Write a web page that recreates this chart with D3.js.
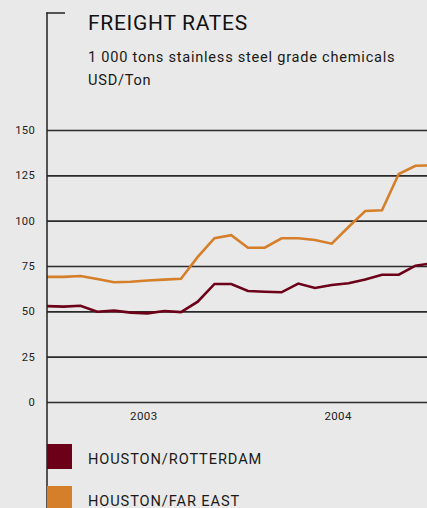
<!DOCTYPE html>
<html>
<head>
<meta charset="utf-8">
<script src="https://cdn.jsdelivr.net/npm/d3@7"></script>
<style>
  html, body { margin: 0; padding: 0; background: #e9e9e9; }
  svg { display: block; font-family: Roboto, "Open Sans", sans-serif; }
</style>
</head>
<body>
<svg id="chart" width="427" height="508"></svg>
<script>
// Freight rates, USD/Ton, one point per period
const rotterdam = [52.9, 52.6, 53.1, 49.8, 50.4, 49.3, 48.9, 50.2, 49.6, 55.3, 65.1, 65.1,
                   61.2, 60.8, 60.5, 65.3, 62.9, 64.5, 65.5, 67.6, 70.2, 70.2, 75.2, 76.5];
const farEast   = [69.0, 69.0, 69.5, 67.8, 66.0, 66.3, 67.0, 67.5, 68.0, 80.0, 90.3, 92.0,
                   85.1, 85.1, 90.3, 90.3, 89.3, 87.3, 96.5, 105.3, 105.7, 125.7, 130.3, 130.5];
const yTicks = [0, 25, 50, 75, 100, 125, 150];
const yearLabels = ["2003", "2004"];
const yearPositions = [5.75, 17.35];   // centre of each year on the period index
const seriesNames = ["HOUSTON/ROTTERDAM", "HOUSTON/FAR EAST"];
const seriesColors = ["#6c0019", "#d57f2b"];

const svg = d3.select("#chart");
const W = 427;
const x0 = 47;

const x = d3.scaleLinear().domain([0, 23]).range([x0, x0 + 23 * 16.75]);
const y = d3.scaleLinear().domain([0, 150]).range([402, 130]);

// Title block
svg.append("text").attr("x", 88).attr("y", 30)
  .attr("font-size", 21).attr("letter-spacing", 0.7).attr("fill", "#111").text("FREIGHT RATES");
svg.append("text").attr("x", 88).attr("y", 62)
  .attr("font-size", 14.6).attr("letter-spacing", 0.75).attr("fill", "#1a1a1a")
  .text("1 000 tons stainless steel grade chemicals");
svg.append("text").attr("x", 88).attr("y", 85)
  .attr("font-size", 14.6).attr("letter-spacing", 0.75).attr("fill", "#1a1a1a").text("USD/Ton");

// Horizontal gridlines with value labels
const yAxis = d3.axisLeft(y).tickValues(yTicks).tickSize(0).tickPadding(0);
const gy = svg.append("g").attr("transform", `translate(${x0},0)`).call(yAxis);
gy.select(".domain").remove();
gy.selectAll(".tick text").attr("x", -12).attr("font-size", 11.2).attr("letter-spacing", 0.3)
  .attr("fill", "#222").attr("font-family", "Roboto, sans-serif");
gy.selectAll(".tick").append("line")
  .attr("x1", 0).attr("x2", W - x0)
  .attr("stroke", "#2a2a2a").attr("stroke-width", 1.6);

// Year labels along the base
const xAxis = d3.axisBottom(x).tickValues(yearPositions)
  .tickFormat((d, i) => yearLabels[i]).tickSize(0).tickPadding(0);
const gx = svg.append("g").attr("transform", "translate(0,420)").call(xAxis);
gx.select(".domain").remove();
gx.selectAll(".tick text").attr("y", 0).attr("dy", 0).attr("font-size", 11.5).attr("letter-spacing", 0.4)
  .attr("fill", "#222").attr("font-family", "Roboto, sans-serif");

// Lines, clipped at the right edge of the plot
svg.append("clipPath").attr("id", "plot-clip")
  .append("rect").attr("x", x0).attr("y", 0).attr("width", W - x0).attr("height", 508);

const line = d3.line().x((d, i) => x(i)).y(d => y(d));
const lines = svg.append("g").attr("clip-path", "url(#plot-clip)");
[farEast, rotterdam].forEach((vals, k) => {
  lines.append("path").datum(vals)
    .attr("d", line)
    .attr("fill", "none")
    .attr("stroke", k === 0 ? seriesColors[1] : seriesColors[0])
    .attr("stroke-width", 2.6)
    .attr("stroke-linejoin", "miter");
});

// Vertical rule with top tick
svg.append("line").attr("x1", x0).attr("x2", x0).attr("y1", 12.5).attr("y2", 508)
  .attr("stroke", "#222").attr("stroke-width", 1.5);
svg.append("line").attr("x1", x0 - 0.75).attr("x2", 65).attr("y1", 13).attr("y2", 13)
  .attr("stroke", "#222").attr("stroke-width", 1.5);

// Legend
const legend = svg.append("g");
seriesNames.forEach((name, i) => {
  const ly = 444 + i * 42;
  legend.append("rect").attr("x", x0).attr("y", ly).attr("width", 25).attr("height", 25)
    .attr("fill", seriesColors[i]);
  legend.append("text").attr("x", 88).attr("y", ly + 19.5)
    .attr("font-size", 14.6).attr("letter-spacing", 0.9).attr("fill", "#1a1a1a").text(name);
});
</script>
</body>
</html>
